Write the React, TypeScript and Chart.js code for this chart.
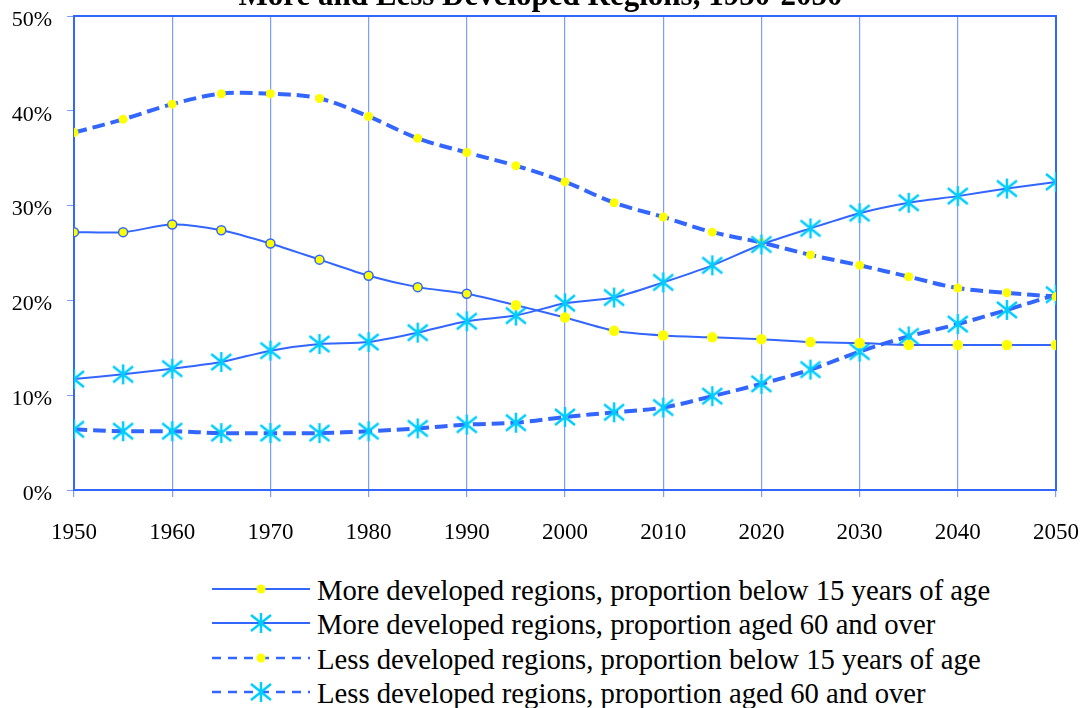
import React, { useEffect, useRef } from "react";
import { Chart, registerables } from "chart.js";

Chart.register(...registerables);

const years = [1950, 1955, 1960, 1965, 1970, 1975, 1980, 1985, 1990, 1995, 2000, 2005, 2010, 2015, 2020, 2025, 2030, 2035, 2040, 2045, 2050];

const moreBelow15 = [27.2, 27.2, 28.0, 27.4, 26.0, 24.3, 22.6, 21.4, 20.7, 19.5, 18.2, 16.8, 16.3, 16.1, 15.9, 15.6, 15.5, 15.3, 15.3, 15.3, 15.3];
const moreAged60 = [11.7, 12.2, 12.8, 13.5, 14.7, 15.4, 15.6, 16.6, 17.8, 18.4, 19.7, 20.3, 21.9, 23.7, 25.9, 27.6, 29.2, 30.3, 31.0, 31.8, 32.5];
const lessBelow15 = [37.7, 39.1, 40.7, 41.8, 41.8, 41.3, 39.4, 37.1, 35.6, 34.2, 32.5, 30.3, 28.8, 27.2, 26.1, 24.8, 23.7, 22.5, 21.3, 20.8, 20.4];
const lessAged60 = [6.4, 6.2, 6.2, 6.0, 6.0, 6.0, 6.2, 6.5, 6.9, 7.1, 7.7, 8.2, 8.7, 9.9, 11.2, 12.7, 14.6, 16.2, 17.5, 19.0, 20.6];

const seriesLabels = [
  "More developed regions, proportion below 15 years of age",
  "More developed regions, proportion aged 60 and over",
  "Less developed regions, proportion below 15 years of age",
  "Less developed regions, proportion aged 60 and over",
];

const titleText = "More and Less Developed Regions, 1950-2050";

const BLUE = "#3366ff";
const GRID = "#7f9cff";
const YELLOW = "#ffff00";
const CYAN = "#00ccff";
const FONT = '"Liberation Serif", "Times New Roman", serif';

function makeAsterisk(): HTMLCanvasElement {
  const c = document.createElement("canvas");
  c.width = 24;
  c.height = 24;
  const ctx = c.getContext("2d")!;
  ctx.strokeStyle = CYAN;
  ctx.lineWidth = 2.5;
  ctx.lineCap = "butt";
  ctx.beginPath();
  ctx.moveTo(12, 2);
  ctx.lineTo(12, 22);
  ctx.moveTo(2, 4);
  ctx.lineTo(22, 20);
  ctx.moveTo(2, 20);
  ctx.lineTo(22, 4);
  ctx.stroke();
  return c;
}

const borderPlugin = {
  id: "plotBorder",
  beforeDatasetsDraw(chart: any) {
    const { ctx, chartArea } = chart;
    ctx.save();
    ctx.strokeStyle = BLUE;
    ctx.lineWidth = 2;
    ctx.strokeRect(chartArea.left, chartArea.top, chartArea.right - chartArea.left, chartArea.bottom - chartArea.top);
    ctx.restore();
  },
};

function LegendMarker({ kind }: { kind: "dot" | "star" }) {
  if (kind === "dot") return <circle cx={49} cy={12} r={4.5} fill={YELLOW} />;
  return (
    <g stroke={CYAN} strokeWidth={2.5}>
      <line x1={49} y1={2} x2={49} y2={22} />
      <line x1={39} y1={4} x2={59} y2={20} />
      <line x1={39} y1={20} x2={59} y2={4} />
    </g>
  );
}

export default function App() {
  const ref = useRef<HTMLCanvasElement>(null);

  useEffect(() => {
    const star = makeAsterisk();
    const toPts = (vals: number[]) => years.map((x, i) => ({ x, y: vals[i] }));
    const chart = new Chart(ref.current!, {
      type: "line",
      data: {
        datasets: [
          {
            label: seriesLabels[0],
            data: toPts(moreBelow15),
            borderColor: BLUE,
            borderWidth: 2,
            tension: 0.25,
            pointStyle: "circle",
            pointRadius: 4.5,
            pointBackgroundColor: YELLOW,
            pointBorderColor: moreBelow15.map((_, i) => (i <= 8 ? BLUE : YELLOW)),
            pointBorderWidth: 1.5,
          },
          {
            label: seriesLabels[1],
            data: toPts(moreAged60),
            borderColor: BLUE,
            borderWidth: 2,
            tension: 0.25,
            pointStyle: star as any,
            pointRadius: 10,
          },
          {
            label: seriesLabels[2],
            data: toPts(lessBelow15),
            borderColor: BLUE,
            borderWidth: 4,
            borderDash: [13, 6],
            tension: 0.35,
            pointStyle: "circle",
            pointRadius: 4.5,
            pointBackgroundColor: YELLOW,
            pointBorderColor: YELLOW,
            pointBorderWidth: 0,
          },
          {
            label: seriesLabels[3],
            data: toPts(lessAged60),
            borderColor: BLUE,
            borderWidth: 4,
            borderDash: [13, 6],
            tension: 0.35,
            pointStyle: star as any,
            pointRadius: 10,
          },
        ],
      },
      options: {
        responsive: true,
        maintainAspectRatio: false,
        animation: false,
        events: [],
        layout: { padding: { left: 0, right: 0, top: 0, bottom: 0 } },
        plugins: {
          legend: { display: false },
          tooltip: { enabled: false },
          title: {
            display: true,
            text: titleText,
            color: "#000",
            font: { family: FONT, size: 31, weight: "bold", lineHeight: 1.2 },
            padding: { top: 18, bottom: 0.8 },
          },
        },
        scales: {
          x: {
            type: "linear",
            min: 1950,
            max: 2050,
            afterFit: (s: any) => {
              s.height = 70;
              s.paddingRight = 25;
            },
            ticks: {
              stepSize: 10,
              color: "#000",
              font: { family: FONT, size: 23 },
              padding: 22,
              maxRotation: 0,
              callback: (v: any) => String(v),
            },
            grid: { color: GRID, lineWidth: 1.2, tickLength: 7, tickColor: GRID },
            border: { color: BLUE, width: 2 },
          },
          y: {
            min: 0,
            max: 50,
            afterFit: (s: any) => {
              s.width = 74;
            },
            ticks: {
              stepSize: 10,
              color: "#000",
              font: { family: FONT, size: 22 },
              padding: 15,
              labelOffset: 4,
              callback: (v: any) => `${v}%`,
            },
            grid: { drawOnChartArea: false, color: GRID, tickLength: 7, tickColor: GRID },
            border: { color: BLUE, width: 2 },
          },
        },
      },
      plugins: [borderPlugin],
    });
    return () => chart.destroy();
  }, []);

  const kinds: ("dot" | "star")[] = ["dot", "star", "dot", "star"];
  const dashed = [false, false, true, true];

  return (
    <div style={{ position: "fixed", left: 0, top: 0, width: 1081, height: 708, overflow: "hidden", background: "#fff" }}>
      <div style={{ position: "absolute", left: 0, top: -40, width: 1081, height: 600 }}>
        <canvas ref={ref} />
      </div>
      {seriesLabels.map((label, i) => (
        <div key={label} style={{ position: "absolute", left: 212, top: 573 + i * 34.3, height: 34.3, width: 860 }}>
          <svg width={100} height={24} style={{ position: "absolute", left: 0, top: 4 }}>
            <line
              x1={0}
              y1={12}
              x2={98}
              y2={12}
              stroke={BLUE}
              strokeWidth={dashed[i] ? 2.5 : 2}
              strokeDasharray={dashed[i] ? "9 7" : undefined}
            />
            <LegendMarker kind={kinds[i]} />
          </svg>
          <div
            style={{
              position: "absolute",
              left: 105,
              top: 0,
              fontFamily: FONT,
              fontSize: 28.7,
              lineHeight: "34.3px",
              color: "#000",
              whiteSpace: "nowrap",
            }}
          >
            {label}
          </div>
        </div>
      ))}
    </div>
  );
}
